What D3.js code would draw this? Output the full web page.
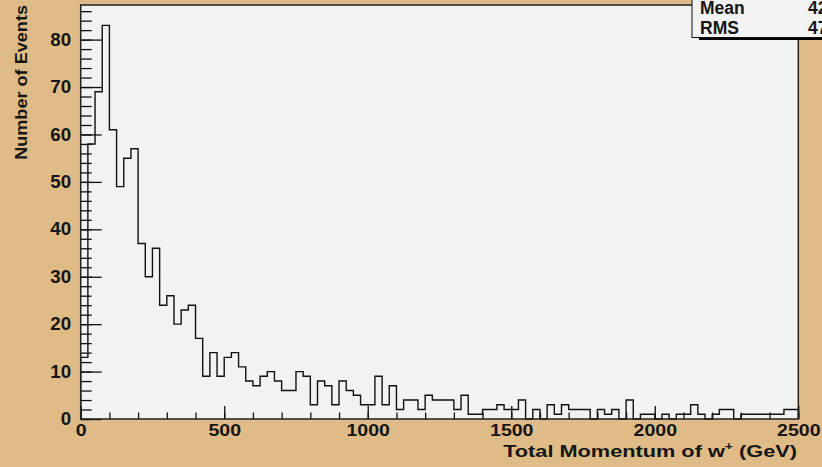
<!DOCTYPE html>
<html>
<head>
<meta charset="utf-8">
<script src="https://cdn.jsdelivr.net/npm/d3@7"></script>
<style>
html, body { margin: 0; padding: 0; background: #dfbb88; }
svg { display: block; }
text { font-family: "Liberation Sans", Arial, sans-serif; font-weight: bold; fill: #151515; }
</style>
</head>
<body>
<svg id="chart"></svg>
<script>
// Histogram: 100 bins of 25 GeV, 0 - 2500
const binStart = 0;
const binWidth = 25;
const counts = [
    13, 58, 69, 83, 61, 49, 55, 57, 37, 30,
    36, 24, 26, 20, 23, 24, 17, 9, 14, 9,
    13, 14, 11, 8, 7, 9, 10, 8, 6, 6,
    10, 9, 3, 8, 7, 3, 8, 6, 5, 3,
    3, 9, 3, 7, 2, 4, 4, 2, 5, 4,
    4, 4, 2, 5, 1, 1, 2, 2, 3, 2,
    2, 4, 0, 2, 0, 3, 1, 3, 2, 2,
    2, 0, 2, 1, 2, 0, 4, 0, 1, 1,
    0, 1, 0, 1, 1, 3, 1, 0, 1, 2,
    2, 0, 1, 1, 1, 1, 1, 1, 2, 2
];
const xTicks = [0, 500, 1000, 1500, 2000, 2500];
const yTicks = [0, 10, 20, 30, 40, 50, 60, 70, 80];
const statNames = ["Mean", "RMS"];
const statValues = ["421.6", "471.3"];
const xTitle = "Total Momentum of w";
const yTitle = "Number of Events";

const width = 822, height = 467;
const svg = d3.select("#chart").attr("width", width).attr("height", height);

const x = d3.scaleLinear().domain([0, 2500]).range([80.7, 798.3]);
const y = d3.scaleLinear().domain([0, 87.3]).range([419, 5]);

// plot frame
svg.append("rect")
    .attr("x", x(0)).attr("y", y(87.3))
    .attr("width", x(2500) - x(0)).attr("height", y(0) - y(87.3))
    .attr("fill", "#f2f2f2");

// histogram outline
const pts = [[x(binStart), y(0)]];
counts.forEach((c, i) => {
    const x0 = binStart + i * binWidth;
    pts.push([x(x0), y(c)], [x(x0 + binWidth), y(c)]);
});
pts.push([x(binStart + counts.length * binWidth), y(0)]);
svg.append("path")
    .attr("d", d3.line()(pts))
    .attr("fill", "none")
    .attr("stroke", "#111")
    .attr("stroke-width", 1.4);

// minor ticks
svg.append("g")
    .attr("transform", `translate(0,${y(0)})`)
    .call(d3.axisBottom(x).tickValues(d3.range(0, 2501, 100)).tickSize(-6.5).tickFormat(""))
    .call(g => g.select(".domain").remove());
svg.append("g")
    .attr("transform", `translate(${x(0)},0)`)
    .call(d3.axisLeft(y).tickValues(d3.range(0, 87, 2)).tickSize(-11).tickFormat(""))
    .call(g => g.select(".domain").remove());

// major ticks + labels
const xAxis = svg.append("g")
    .attr("transform", `translate(0,${y(0)})`)
    .call(d3.axisBottom(x).tickValues(xTicks).tickSize(-13).tickPadding(5).tickFormat(d3.format("d")))
    .call(g => g.select(".domain").remove());
const yAxis = svg.append("g")
    .attr("transform", `translate(${x(0)},0)`)
    .call(d3.axisLeft(y).tickValues(yTicks).tickSize(-21).tickPadding(9).tickFormat(d3.format("d")))
    .call(g => g.select(".domain").remove());

svg.selectAll(".tick line").attr("stroke", "#111").attr("stroke-width", 1.3);
xAxis.selectAll("text")
    .attr("font-size", 17).attr("font-family", null).attr("fill", null)
    .attr("transform", "scale(1.15,1)");
yAxis.selectAll("text")
    .attr("font-size", 17.5).attr("font-family", null).attr("fill", null)
    .attr("transform", "scale(1.07,1)");

// frame border
svg.append("rect")
    .attr("x", x(0)).attr("y", y(87.3))
    .attr("width", x(2500) - x(0)).attr("height", y(0) - y(87.3))
    .attr("fill", "none")
    .attr("stroke", "#222")
    .attr("stroke-width", 1.5);

// stats box
svg.append("rect")
    .attr("x", 699).attr("y", 37).attr("width", 140).attr("height", 3)
    .attr("fill", "#000");
svg.append("rect")
    .attr("x", 692).attr("y", -20).attr("width", 140).attr("height", 57.5)
    .attr("fill", "#f2f2f2").attr("stroke", "#111").attr("stroke-width", 1);
statNames.forEach((s, i) => {
    svg.append("text").attr("x", 700).attr("y", 13.5 + i * 20)
        .attr("font-size", 17.5).text(s);
    svg.append("text").attr("x", 808).attr("y", 13.5 + i * 20)
        .attr("font-size", 17.5).text(statValues[i]);
});

// axis titles
const xt = svg.append("g").attr("transform", "translate(797,457)");
const xtText = xt.append("text").attr("text-anchor", "end").attr("font-size", 17);
xtText.append("tspan").text(xTitle);
xtText.append("tspan").attr("font-size", 11).attr("dy", -7).text("+");
xtText.append("tspan").attr("dy", 7).text(" (GeV)");
const xtw = xtText.node().getBBox().width;
xtText.attr("transform", `scale(${294 / xtw},1)`);

const yt = svg.append("g").attr("transform", "translate(27,5) rotate(-90)");
const ytText = yt.append("text").attr("text-anchor", "end").attr("font-size", 17).text(yTitle);
const ytw = ytText.node().getBBox().width;
ytText.attr("transform", `scale(${155 / ytw},1)`);
</script>
</body>
</html>
